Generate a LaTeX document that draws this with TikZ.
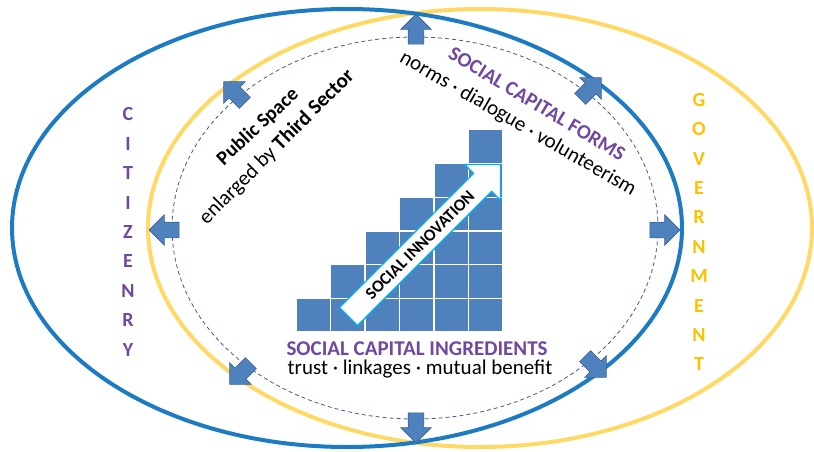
\documentclass[tikz,border=0pt]{standalone}
\usepackage{fontspec}
\setmainfont{Carlito}
\usetikzlibrary{shapes.arrows}
\definecolor{ringblue}{RGB}{28,123,194}
\definecolor{ringgold}{RGB}{255,217,102}
\definecolor{boxblue}{RGB}{79,129,189}
\definecolor{boxedge}{RGB}{58,98,155}
\definecolor{dashblue}{RGB}{62,92,152}
\definecolor{capurple}{RGB}{112,72,160}
\definecolor{govgold}{RGB}{255,192,0}
\definecolor{arrowcyan}{RGB}{0,176,240}

\begin{document}
\begin{tikzpicture}[
  x=1pt, y=-1pt,
  blockarrow/.style={single arrow, fill=boxblue, draw=boxedge, line width=0.6pt,
    minimum height=30pt, single arrow head extend=7.5pt, inner xsep=0pt, inner ysep=7.5pt},
  bigarrow/.style={single arrow, fill=white, draw=arrowcyan, line width=1.3pt,
    minimum height=215pt, single arrow head extend=12.5pt, inner xsep=0pt, inner ysep=6.5pt,
    font=\bfseries\fontsize{17}{17}\selectfont},
  spine/.style={text=#1, inner sep=0pt, align=center,
    font=\bfseries\fontsize{20}{29.4}\selectfont},
  heading/.style={text=capurple, inner sep=0pt, font=\bfseries\fontsize{21}{21}\selectfont},
  items/.style={inner sep=0pt, font=\fontsize{21}{21}\selectfont},
  slant/.style={inner sep=0pt, font=\fontsize{21}{21}\selectfont}
  ]
  \useasboundingbox (0,0) rectangle (814,452);

  \draw[ringgold, line width=4pt] (480,228) ellipse (332pt and 219pt);
  \draw[ringblue, line width=4pt] (347,228) ellipse (335pt and 219pt);
  \draw[dashblue, line width=0.8pt, dash pattern=on 4pt off 3pt] (415,228) ellipse (243pt and 191pt);

  \foreach \c in {1,...,6}
    \foreach \r in {1,...,\c}
      \filldraw[fill=boxblue, draw=white, line width=1.2pt]
        ({296+(\c-1)*34.5}, {332-\r*33.7}) rectangle ++(34.5,33.7);

  \node[bigarrow, rotate=45] (NInnov) at (420,245) {SOCIAL INNOVATION};

  \node[blockarrow, rotate=90]   (AN)  at (416,33)  {};
  \node[blockarrow, rotate=45]   (ANE) at (588,91)  {};
  \node[blockarrow, rotate=0]    (AE)  at (661,230) {};
  \node[blockarrow, rotate=-45]  (ASE) at (593,364) {};
  \node[blockarrow, rotate=-90]  (AS)  at (416,424) {};
  \node[blockarrow, rotate=-135] (ASW) at (243,371) {};
  \node[blockarrow, rotate=180]  (AW)  at (168,230) {};
  \node[blockarrow, rotate=135]  (ANW) at (237,95)  {};

  \node[slant, rotate=43, font=\bfseries\fontsize{20}{20}\selectfont] (NPublic) at (258,127) {Public Space};
  \node[slant, rotate=45] (NThird) at (277,147) {enlarged by \textbf{Third Sector}};
  \node[heading, rotate=-31, font=\bfseries\fontsize{20.5}{20.5}\selectfont] (NForms) at (537,104) {SOCIAL CAPITAL FORMS};
  \node[slant, rotate=-30] (NFormsList) at (518,124) {norms · dialogue · volunteerism};
  \node[heading] (NIngr) at (417,349) {SOCIAL CAPITAL INGREDIENTS};
  \node[items] (NIngrList) at (420,369) {trust · linkages · mutual benefit};

  \node[spine=capurple] (NCitizen) at (128,232) {C\\I\\T\\I\\Z\\E\\N\\R\\Y};
  \node[spine=govgold] (NGovt) at (699,232) {G\\O\\V\\E\\R\\N\\M\\E\\N\\T};
\end{tikzpicture}
\end{document}
